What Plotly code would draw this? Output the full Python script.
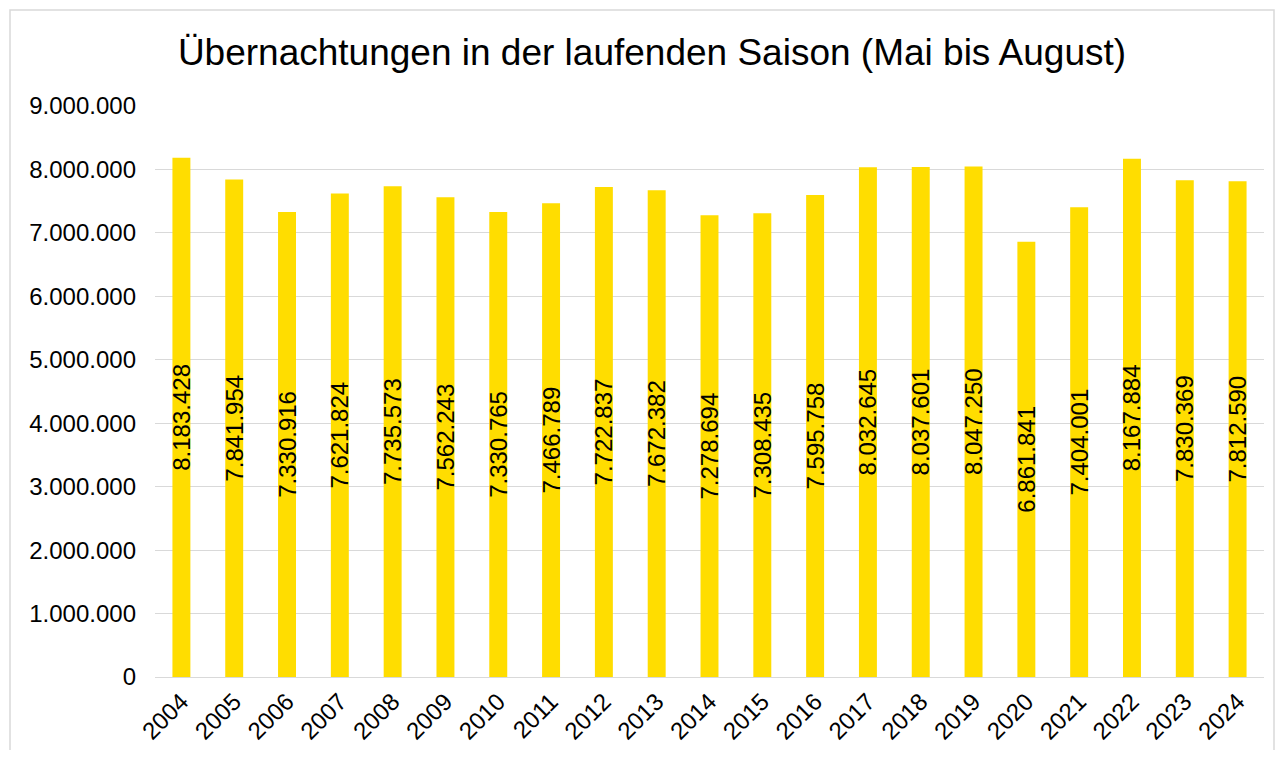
import plotly.graph_objects as go

years = [str(y) for y in range(2004, 2025)]
overnights = [8183428, 7841954, 7330916, 7621824, 7735573, 7562243, 7330765, 7466789,
              7722837, 7672382, 7278694, 7308435, 7595758, 8032645, 8037601, 8047250,
              6861841, 7404001, 8167884, 7830369, 7812590]
title_text = "Übernachtungen in der laufenden Saison (Mai bis August)"

# page has an 8px body margin; compensate so the screen coordinates match
OFF = 8
W, H = 1284 - 2 * OFF, 758 - 2 * OFF
L, R, T, B = 155 - OFF, 20 - OFF, 106 - OFF, 81 - OFF
pw, ph = W - L - R, H - T - B

fig = go.Figure()
fig.add_trace(go.Bar(
    x=years, y=overnights,
    marker=dict(color="#FFDD00", line=dict(width=0)),
    texttemplate="%{y:,.0f}",
    textposition="inside",
    insidetextanchor="middle",
    textangle=-90,
    constraintext="none",
    textfont=dict(family="Liberation Sans, Arial, sans-serif", size=24, color="#000000"),
    hoverinfo="x+y",
))

fig.update_layout(
    width=W, height=H,
    margin=dict(l=L, r=R, t=T, b=B, autoexpand=False),
    paper_bgcolor="white", plot_bgcolor="white",
    separators=",.",
    bargap=0.66,
    showlegend=False,
    font=dict(family="Liberation Sans, Arial, sans-serif", color="#000000"),
    title=dict(text=title_text, x=(652 - OFF) / W, xref="container", xanchor="center",
               y=1 - (52 - OFF) / H, yref="container", yanchor="middle",
               font=dict(size=37, color="#000000")),
    uniformtext=dict(minsize=24, mode="show"),
)
fig.update_xaxes(
    type="category", tickangle=-45, tickfont=dict(size=24),
    showgrid=False, showline=True, linecolor="#d9d9d9", linewidth=1,
    ticks="", ticklen=0,
)
fig.update_yaxes(
    range=[0, 9000000], dtick=1000000, tickformat=",.0f",
    tickfont=dict(size=24), showgrid=True, gridcolor="#d9d9d9", gridwidth=1,
    zeroline=False, showline=False, ticks="", ticklabelstandoff=18,
)

# outer chart border (screen coords 10..1274, 10..752)
x0 = (10 - OFF - L) / pw
x1 = (1274 - OFF - L) / pw
y1 = 1 + (T - (10 - OFF)) / ph
y0 = -((752 - OFF) - T - ph) / ph
fig.add_shape(type="rect", xref="paper", yref="paper", x0=x0, x1=x1, y0=y0, y1=y1,
              line=dict(color="#d9d9d9", width=1.5), fillcolor="rgba(0,0,0,0)", layer="below")

fig.write_html("out.html")
